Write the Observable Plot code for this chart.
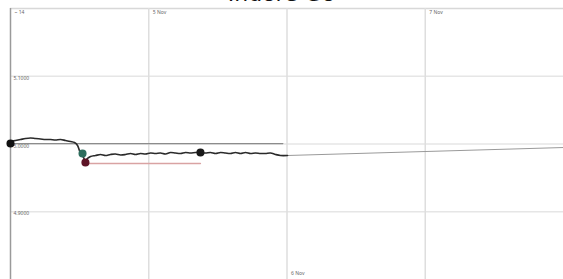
<!DOCTYPE html>
<html><head><meta charset="utf-8">
<script src="https://cdn.jsdelivr.net/npm/d3@7"></script>
<script src="https://cdn.jsdelivr.net/npm/@observablehq/plot@0.6"></script>
<style>
html,body{margin:0;padding:0;background:#fff;overflow:hidden;}
#wrap{position:relative;width:563px;height:279px;}
#title{position:absolute;left:0;width:563px;top:-19px;text-align:center;font:22px "DejaVu Sans",sans-serif;color:#111;}
#chart{position:absolute;left:0;top:0;}
</style></head>
<body><div id="wrap"><div id="title">Indore Go</div><div id="chart"></div></div>
<script>
// time in days, price values
const times = [0,0.036,0.072,0.108,0.145,0.181,0.217,0.253,0.289,0.325,0.362,0.398,0.434,0.463,0.485,0.499,0.514,0.528,0.542,0.557,0.579,0.615,0.651,0.687,0.723,0.759,0.796,0.832,0.868,0.904,0.940,0.976,1.013,1.049,1.085,1.121,1.157,1.193,1.230,1.266,1.302,1.338,1.374,1.410,1.447,1.483,1.519,1.555,1.591,1.627,1.664,1.700,1.736,1.772,1.808,1.844,1.881,1.917,1.953,2.004];
const prices = [5.0037,5.0052,5.0066,5.0081,5.0089,5.0081,5.0074,5.0066,5.0066,5.0059,5.0066,5.0052,5.0037,5.0022,4.9978,4.9904,4.9860,4.9801,4.9756,4.9786,4.9815,4.9830,4.9845,4.9830,4.9845,4.9852,4.9838,4.9845,4.9860,4.9845,4.9860,4.9852,4.9867,4.9860,4.9867,4.9852,4.9875,4.9867,4.9860,4.9875,4.9867,4.9875,4.9875,4.9867,4.9875,4.9860,4.9875,4.9867,4.9860,4.9875,4.9860,4.9875,4.9860,4.9867,4.9860,4.9860,4.9867,4.9845,4.9830,4.9830];
const refLineTimes = [0, 1.97];
const refLinePrice = 5.0007;
const trendTimes = [2.0, 4.0];
const trendPrices = [4.9830, 4.9948];
const supportTimes = [0.564, 1.374];
const supportPrice = 4.9712;
const markerTimes = [0, 0.521, 0.542, 1.374];
const markerPrices = [5.0007, 4.9860, 4.9727, 4.9875];
const markerColors = ["#111", "#2f6e5e", "#5e1426", "#1a1a1a"];
const xTicks = [0, 1, 2, 3];
const xTickLabels = ["~ 14", "5 Nov", "6 Nov", "7 Nov"];
const xTickTop = [true, true, false, true];
const yTicks = [5.1, 5.0, 4.9];
const yTickLabels = ["5.1000", "5.0000", "4.9000"];

const series = times.map((t, i) => ({t, p: prices[i]}));
const markers = markerTimes.map((t, i) => ({t, p: markerPrices[i], c: markerColors[i]}));
const xt = xTicks.map((t, i) => ({t, label: xTickLabels[i], top: xTickTop[i]}));
const yt = yTicks.map((p, i) => ({p, label: yTickLabels[i]}));

const chart = Plot.plot({
  width: 563, height: 279,
  marginLeft: 10, marginRight: 0, marginTop: 8, marginBottom: 0,
  x: {domain: [0, 4], axis: null},
  y: {domain: [4.8, 5.2], axis: null},
  style: {background: "transparent"},
  marks: [
    Plot.ruleY([5.2], {stroke: "#d8d8d8", strokeWidth: 1.5}),
    Plot.ruleY(yTicks, {stroke: "#e6e6e6", strokeWidth: 1.5}),
    Plot.ruleX([1, 2, 3], {stroke: "#dedede", strokeWidth: 1.5}),
    Plot.ruleX([0], {stroke: "#9a9a9a", strokeWidth: 1.5}),
    Plot.text(xt.filter(d => d.top), {x: "t", y: 5.2, text: "label", dx: 4, dy: 4, textAnchor: "start", fontSize: 5, fill: "#666"}),
    Plot.text(xt.filter(d => !d.top), {x: "t", y: 4.8, text: "label", dx: 4, dy: -6, textAnchor: "start", fontSize: 5, fill: "#666"}),
    Plot.text(yt, {x: 0, y: "p", text: "label", dx: 3, dy: 2, textAnchor: "start", fontSize: 5, fill: "#666"}),
    Plot.line(refLineTimes.map(t => ({t, p: refLinePrice})), {x: "t", y: "p", stroke: "#8c8c8c", strokeWidth: 1.3}),
    Plot.line(trendTimes.map((t, i) => ({t, p: trendPrices[i]})), {x: "t", y: "p", stroke: "#9a9a9a", strokeWidth: 1}),
    Plot.line(supportTimes.map(t => ({t, p: supportPrice})), {x: "t", y: "p", stroke: "#d9a3a3", strokeWidth: 1.3}),
    Plot.line(series, {x: "t", y: "p", stroke: "#2a2a2a", strokeWidth: 1.6, curve: "catmull-rom"}),
    Plot.dot(markers, {x: "t", y: "p", fill: "c", stroke: "c", r: 3.3})
  ]
});
document.getElementById("chart").appendChild(chart);
</script>
</body></html>
